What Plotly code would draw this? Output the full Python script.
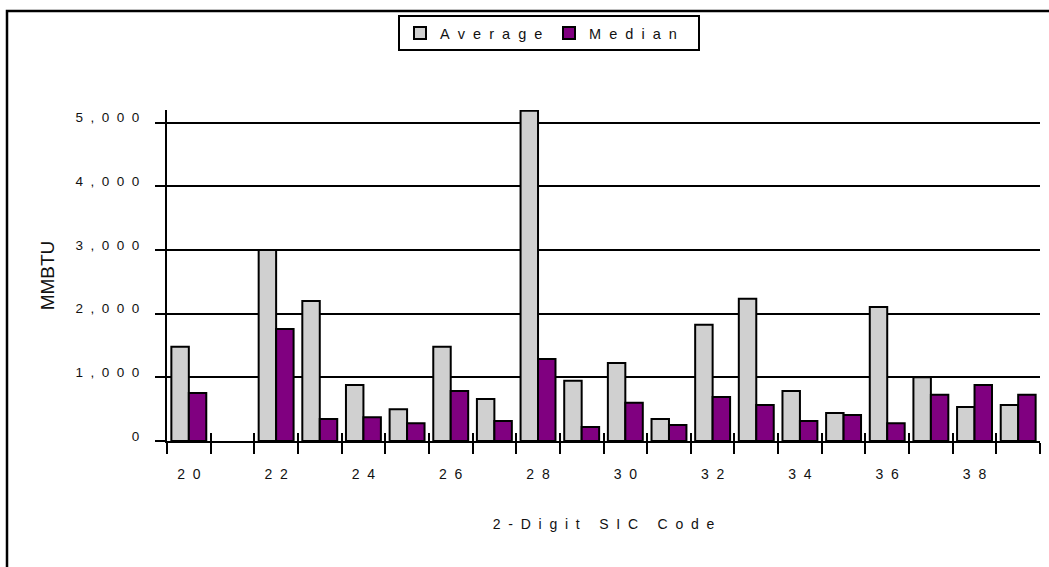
import plotly.graph_objects as go

# ---- data ----
categories = ["20", "21", "22", "23", "24", "25", "26", "27", "28", "29",
              "30", "31", "32", "33", "34", "35", "36", "37", "38", "39"]
average = [1480, None, 3000, 2200, 880, 500, 1480, 660, 5190, 945,
           1225, 345, 1825, 2235, 785, 440, 2105, 1000, 535, 565]
median = [755, None, 1760, 345, 375, 280, 785, 315, 1290, 220,
          600, 250, 690, 565, 315, 410, 280, 725, 880, 725]
x_tick_labels = ["20", "", "22", "", "24", "", "26", "", "28", "",
                 "30", "", "32", "", "34", "", "36", "", "38", ""]
y_tick_values = [0, 1000, 2000, 3000, 4000, 5000]
y_tick_labels = ["0", "1,000", "2,000", "3,000", "4,000", "5,000"]

FONT = "Liberation Sans, Arial, sans-serif"
GAP = "\u00a0\u00a0"
TXT = "#111111"


def spaced(s):
    return GAP.join(s)


W, H = 1049, 567
ML, MR, MT, MB = 167, 9, 110, 126
PW, PH = W - ML - MR, H - MT - MB


def px_x(x):
    return (x - ML) / PW


def px_y(y):
    return (H - MB - y) / PH


fig = go.Figure()
fig.add_trace(go.Bar(
    x=categories, y=average, name=spaced("Average"),
    marker=dict(color="#D0D0D0", line=dict(color="black", width=2)),
))
fig.add_trace(go.Bar(
    x=categories, y=median, name=spaced("Median"),
    marker=dict(color="#800080", line=dict(color="black", width=2)),
))
# helper trace for the overlaid tick axis (upward part of crossing ticks)
fig.add_trace(go.Scatter(
    x=categories, y=[0] * len(categories), xaxis="x2", mode="markers",
    marker=dict(opacity=0), showlegend=False, hoverinfo="skip",
))

fig.update_layout(
    width=W, height=H,
    margin=dict(l=ML, r=MR, t=MT, b=MB),
    paper_bgcolor="white", plot_bgcolor="white",
    font=dict(family=FONT, size=14, color=TXT),
    barmode="group", bargap=0.2, bargroupgap=0,
    showlegend=True,
    legend=dict(
        orientation="h", x=px_x(549), xanchor="center",
        y=px_y(15), yanchor="top",
        bordercolor="black", borderwidth=2, bgcolor="white",
        font=dict(family=FONT, size=14.5, color=TXT),
        itemwidth=30, entrywidth=104, entrywidthmode="pixels",
        traceorder="normal",
    ),
    xaxis=dict(
        type="category", categoryorder="array", categoryarray=categories,
        range=[-0.5, len(categories) - 0.5],
        tickmode="array", tickvals=categories,
        ticktext=[spaced(t) for t in x_tick_labels],
        tickson="boundaries", ticks="outside", ticklen=11, tickwidth=2,
        tickcolor="black", showline=True, linecolor="black", linewidth=2,
        showgrid=False, zeroline=False, ticklabelstandoff=19,
        tickfont=dict(family=FONT, size=14, color=TXT),
        title=dict(text=spaced("2-Digit SIC Code"), standoff=38,
                   font=dict(family=FONT, size=14, color=TXT)),
    ),
    xaxis2=dict(
        type="category", categoryorder="array", categoryarray=categories,
        range=[-0.5, len(categories) - 0.5], overlaying="x", anchor="y",
        side="bottom", tickmode="array", tickvals=categories,
        tickson="boundaries", ticks="inside", ticklen=8, tickwidth=2,
        tickcolor="black", showticklabels=False, showline=False,
        showgrid=False, zeroline=False,
    ),
    yaxis=dict(
        range=[0, 5200], tickmode="array", tickvals=y_tick_values,
        ticktext=[spaced(t) for t in y_tick_labels],
        ticks="outside", ticklen=10, tickwidth=2, tickcolor="black",
        ticklabelstandoff=13, ticklabelshift=-5,
        showline=True, linecolor="black", linewidth=2,
        showgrid=True, gridcolor="black", gridwidth=2, zeroline=False,
        tickfont=dict(family=FONT, size=13.5, color=TXT),
        title=dict(text="MMBTU", standoff=16,
                   font=dict(family=FONT, size=19, color=TXT)),
    ),
    shapes=[dict(
        type="rect", xref="paper", yref="paper",
        x0=px_x(7), x1=px_x(W + 20), y0=px_y(H + 20), y1=px_y(11),
        line=dict(color="black", width=2.5), fillcolor="rgba(0,0,0,0)",
    )],
)

fig.write_html(
    "out.html",
    config={"displayModeBar": False},
    post_script="document.body.style.margin='0';document.body.style.overflow='hidden';",
)
